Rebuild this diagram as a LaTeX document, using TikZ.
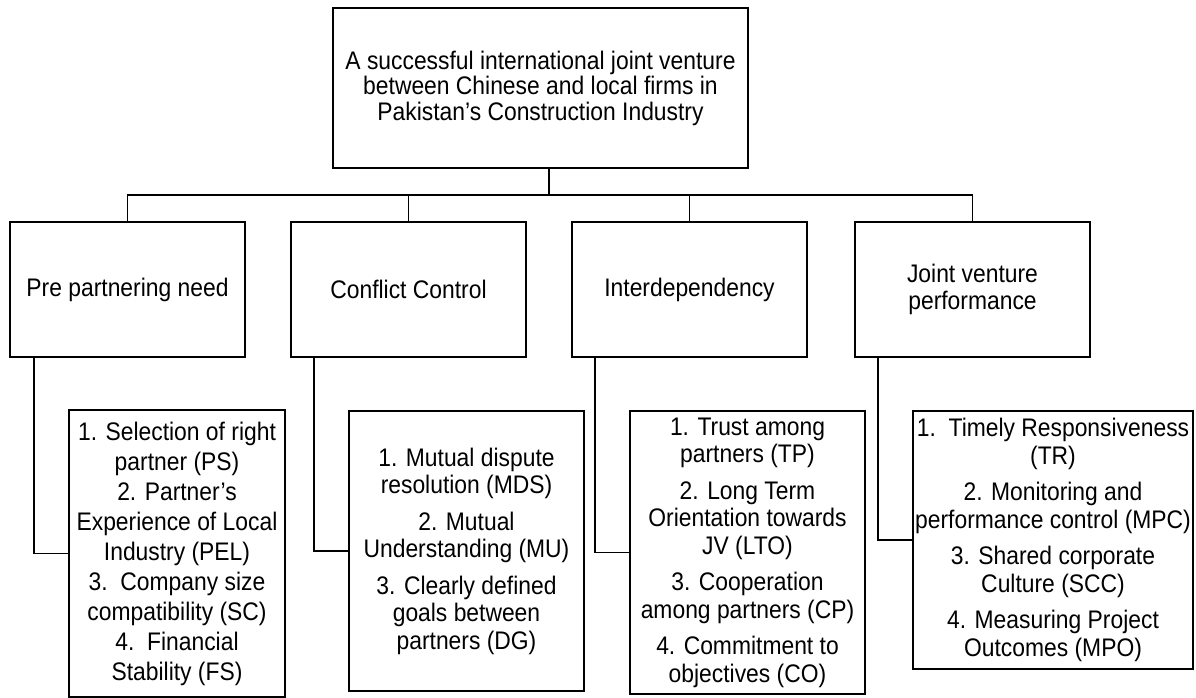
\documentclass[tikz,border=0pt]{standalone}
\usepackage{fontspec}
\setmainfont{Liberation Sans}[FakeStretch=0.9]
\begin{document}
\begin{tikzpicture}[x=1pt,y=-1pt,
  box/.style={draw, line width=1.6pt, inner sep=0pt, align=center},
  wire/.style={line width=1.6pt},
  toptext/.style={font=\fontsize{25.4}{25.5}\selectfont},
  midtext/.style={font=\fontsize{25.4}{27}\selectfont},
  lowtext/.style={font=\fontsize{25.4}{27.5}\selectfont}]
\useasboundingbox (0,0) rectangle (1196,698);
\fill[white] (0,0) rectangle (1196,698);

% goal
\node[box, toptext, minimum width=415pt, minimum height=160pt] (top) at (540.5,88)
  {A successful international joint venture\\between Chinese and local firms in\\Pakistan’s Construction Industry};

% dimensions
\node[box, midtext, minimum width=235pt, minimum height=135pt] (pre) at (127.5,289.5) {Pre partnering need};
\node[box, midtext, minimum width=235pt, minimum height=135pt] (con) at (408.5,289.5) {Conflict Control};
\node[box, midtext, minimum width=235pt, minimum height=135pt] (int) at (689.5,289.5) {Interdependency};
\node[box, midtext, minimum width=235pt, minimum height=135pt] (jvp) at (972.5,289.5) {Joint venture\\performance};

% factors
\node[box, font=\fontsize{25.4}{30}\selectfont, minimum width=216pt, minimum height=287pt] (preF) at (177,553.5)
  {1. Selection of right\\partner (PS)\\2. Partner's\\Experience of Local\\Industry (PEL)\\3.\ \ Company size\\compatibility (SC)\\4.\ \ Financial\\Stability (FS)};
\node[box, lowtext, minimum width=235pt, minimum height=280pt] (conF) at (466.5,551)
  {1. Mutual dispute\\resolution (MDS)\\[9pt]2. Mutual\\Understanding (MU)\\[9pt]3. Clearly defined\\goals between\\partners (DG)};
\node[box, lowtext, minimum width=235pt, minimum height=283pt] (intF) at (747.5,552.5)
  {1. Trust among\\partners (TP)\\[9pt]2. Long Term\\Orientation towards\\JV (LTO)\\[9pt]3. Cooperation\\among partners (CP)\\[9pt]4. Commitment to\\objectives (CO)};
\node[box, lowtext, minimum width=280pt, minimum height=258pt] (jvpF) at (1053,540)
  {1.\ \ Timely Responsiveness\\(TR)\\[9pt]2. Monitoring and\\performance control (MPC)\\[9pt]3. Shared corporate\\Culture (SCC)\\[9pt]4. Measuring Project\\Outcomes (MPO)};

% goal to dimensions
\coordinate (bus) at (549,195);
\draw[wire] (bus |- top.south) -- (bus);
\draw[wire] (pre.north) |- (bus) -| (jvp.north);
\draw[wire] (con.north) -- (con.north |- bus);
\draw[wire] (int.north) -- (int.north |- bus);

% dimensions to factors
\draw[wire] ([xshift=25pt]pre.south west) |- (preF.west);
\draw[wire] ([xshift=24pt]con.south west) |- (conF.west);
\draw[wire] ([xshift=24pt]int.south west) |- (intF.west);
\draw[wire] ([xshift=24pt]jvp.south west) |- (jvpF.west);
\end{tikzpicture}
\end{document}
